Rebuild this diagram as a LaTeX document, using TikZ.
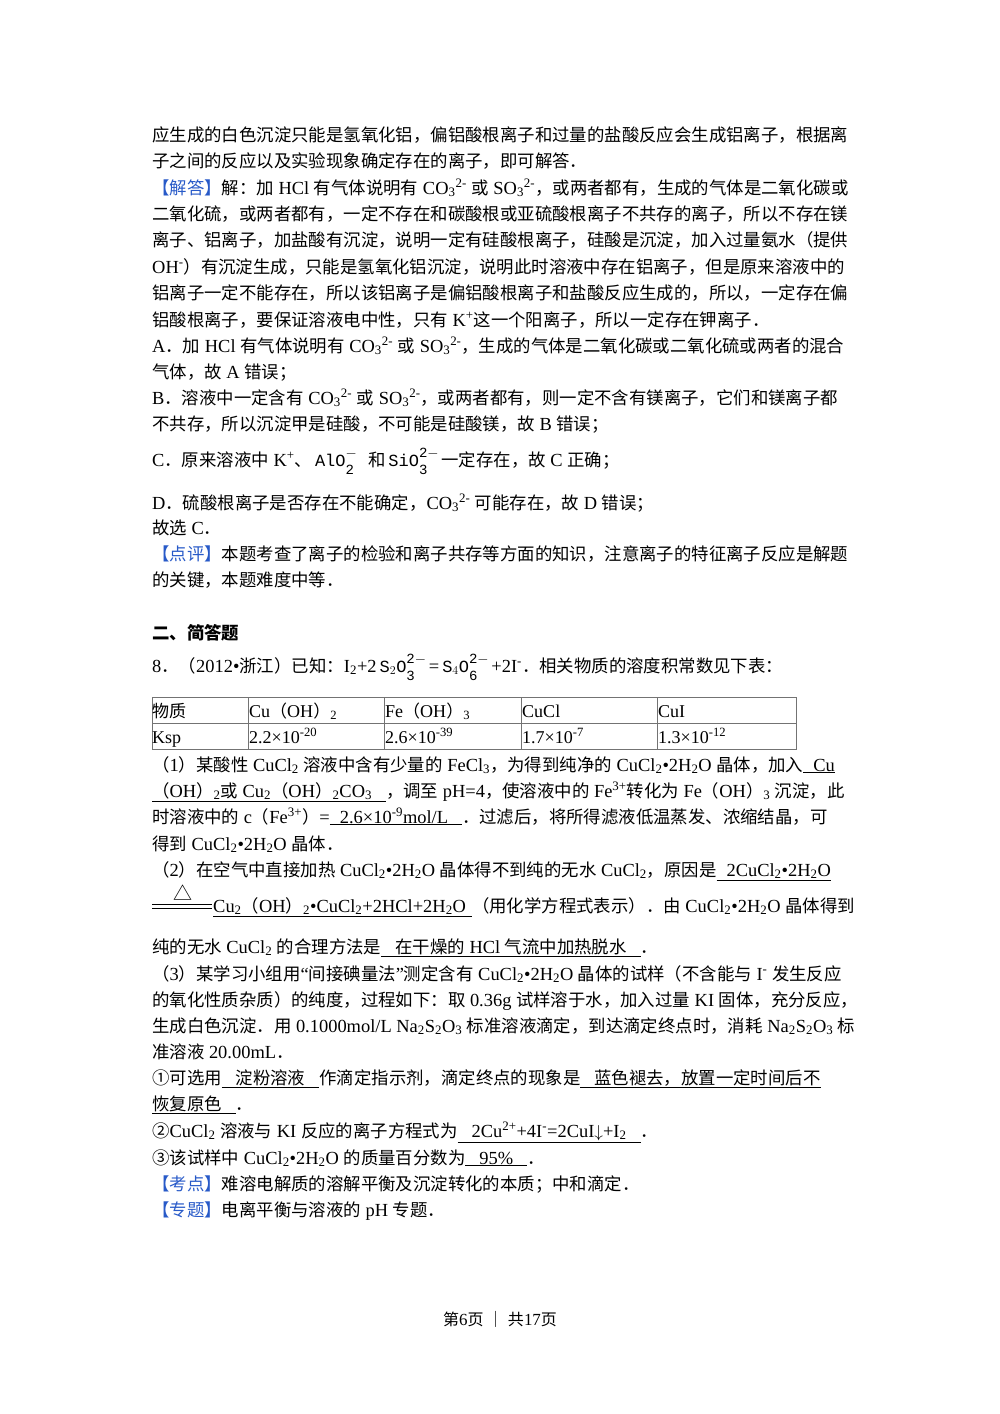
\documentclass[tikz,border=0pt]{standalone}
\usepackage{fontspec}
\setmainfont[Scale=1.06]{Liberation Serif}
\newfontfamily\latinf[Scale=1.06]{Liberation Serif}
\newfontfamily\cjk{Noto Sans CJK SC}
\newfontfamily\monof{Liberation Mono}
\XeTeXinterchartokenstate=1
\newXeTeXintercharclass\CJKcls
\newcount\cc
\def\setcls#1#2{\cc=#1 \loop\XeTeXcharclass\cc=\CJKcls\ifnum\cc<#2 \advance\cc by 1 \repeat}
\setcls{"3000}{"303F}
\setcls{"4E00}{"9FFF}
\setcls{"FF00}{"FFEF}
\setcls{"2460}{"2473}
\setcls{"25B3}{"25B3}
\XeTeXinterchartoks 0 \CJKcls={\cjk}
\XeTeXinterchartoks 4095 \CJKcls={\cjk}
\XeTeXinterchartoks \CJKcls 0={\latinf}
\XeTeXinterchartoks \CJKcls 4095={\latinf}
\definecolor{hd}{RGB}{40,90,200}
\newcommand\sbb[1]{\textsubscript{#1}}
\newcommand\spp[1]{\textsuperscript{#1}}
\newcommand\hdr[1]{{\color{hd}【#1】}}
\newcommand\ionx[3]{\hspace{3pt}{\monof\fontsize{17}{17}\selectfont #1\makebox[0pt][l]{\raisebox{9pt}{\fontsize{14}{14}\selectfont #3}}\raisebox{-8pt}{\fontsize{14}{14}\selectfont #2}\hspace{14pt}}}
\begin{document}
\begin{tikzpicture}[x=1pt,y=-1pt,
  txt/.style={anchor=base west,inner sep=0pt,font=\fontsize{17.4}{26}\selectfont},
  cell/.style={anchor=base west,inner sep=0pt,font=\fontsize{17}{22}\selectfont},
  grid/.style={draw=black!55,line width=0.8pt}]
\useasboundingbox (0,0) rectangle (1000,1414);
\newcommand\Ln[3]{\node[txt](#1) at (152,{#2+7}) {#3};}
\Ln{a1}{134}{应生成的白色沉淀只能是氢氧化铝，偏铝酸根离子和过量的盐酸反应会生成铝离子，根据离}
\Ln{a2}{160}{子之间的反应以及实验现象确定存在的离子，即可解答．}
\Ln{a3}{187}{\hdr{解答}解：加 HCl 有气体说明有 CO\sbb{3}\spp{2-} 或 SO\sbb{3}\spp{2-}，或两者都有，生成的气体是二氧化碳或}
\Ln{a4}{213}{二氧化硫，或两者都有，一定不存在和碳酸根或亚硫酸根离子不共存的离子，所以不存在镁}
\Ln{a5}{239}{离子、铝离子，加盐酸有沉淀，说明一定有硅酸根离子，硅酸是沉淀，加入过量氨水（提供}
\Ln{a6}{266}{OH\spp{-}）有沉淀生成，只能是氢氧化铝沉淀，说明此时溶液中存在铝离子，但是原来溶液中的}
\Ln{a7}{292}{铝离子一定不能存在，所以该铝离子是偏铝酸根离子和盐酸反应生成的，所以，一定存在偏}
\Ln{a8}{319}{铝酸根离子，要保证溶液电中性，只有 K\spp{+}这一个阳离子，所以一定存在钾离子．}
\Ln{a9}{345}{A．加 HCl 有气体说明有 CO\sbb{3}\spp{2-} 或 SO\sbb{3}\spp{2-}，生成的气体是二氧化碳或二氧化硫或两者的混合}
\Ln{a10}{371}{气体，故 A 错误；}
\Ln{a11}{397}{B．溶液中一定含有 CO\sbb{3}\spp{2-} 或 SO\sbb{3}\spp{2-}，或两者都有，则一定不含有镁离子，它们和镁离子都}
\Ln{a12}{423}{不共存，所以沉淀甲是硅酸，不可能是硅酸镁，故 B 错误；}
\Ln{a13}{459}{C．原来溶液中 K\spp{+}、\ionx{AlO}{2}{$-$}和\ionx{SiO}{3}{2$-$}一定存在，故 C 正确；}
\Ln{a14}{502}{D．硫酸根离子是否存在不能确定，CO\sbb{3}\spp{2-} 可能存在，故 D 错误；}
\Ln{a15}{527}{故选 C．}
\Ln{a16}{553}{\hdr{点评}本题考查了离子的检验和离子共存等方面的知识，注意离子的特征离子反应是解题}
\Ln{a17}{579}{的关键，本题难度中等．}
\Ln{b0}{632}{\bfseries 二、简答题}
\Ln{b1}{665}{8．（2012•浙江）已知：I\sbb{2}+2\ionx{S$_2$O}{3}{2$-$}=\ionx{S$_4$O}{6}{2$-$}+2I\spp{-}．相关物质的溶度积常数见下表：}
% table
\draw[grid] (152,697) rectangle (796,749);
\draw[grid] (152,723) -- (796,723);
\foreach \xx in {248,384,521,657} \draw[grid] (\xx,697) -- (\xx,749);
\node[cell](t1) at (152,717) {物质};
\node[cell](t2) at (249,717) {Cu（OH）\sbb{2}};
\node[cell](t3) at (385,717) {Fe（OH）\sbb{3}};
\node[cell](t4) at (522,717) {CuCl};
\node[cell](t5) at (658,717) {CuI};
\node[cell](t6) at (152,743) {Ksp};
\node[cell](t7) at (249,743) {2.2×10\spp{-20}};
\node[cell](t8) at (385,743) {2.6×10\spp{-39}};
\node[cell](t9) at (522,743) {1.7×10\spp{-7}};
\node[cell](t10) at (658,743) {1.3×10\spp{-12}};
\Ln{c1}{764}{（1）某酸性 CuCl\sbb{2} 溶液中含有少量的 FeCl\sbb{3}，为得到纯净的 CuCl\sbb{2}•2H\sbb{2}O 晶体，加入\underline{\hspace{10pt}Cu}}
\Ln{c2}{790}{\underline{（OH）\sbb{2}或 Cu\sbb{2}（OH）\sbb{2}CO\sbb{3}\hspace{14pt}}，调至 pH=4，使溶液中的 Fe\spp{3+}转化为 Fe（OH）\sbb{3} 沉淀，此}
\Ln{c3}{816}{时溶液中的 c（Fe\spp{3+}）=\underline{\hspace{10pt}2.6×10\spp{-9}mol/L\hspace{14pt}}．过滤后，将所得滤液低温蒸发、浓缩结晶，可}
\Ln{c4}{843}{得到 CuCl\sbb{2}•2H\sbb{2}O 晶体．}
\Ln{c5}{869}{（2）在空气中直接加热 CuCl\sbb{2}•2H\sbb{2}O 晶体得不到纯的无水 CuCl\sbb{2}，原因是\underline{\hspace{10pt}2CuCl\sbb{2}•2H\sbb{2}O}}
\coordinate (e1) at (152,904); \coordinate (e2) at (212,904);
\coordinate (e3) at (152,908); \coordinate (e4) at (212,908);
\draw[line width=1pt] (e1) -- (e2); \draw[line width=1pt] (e3) -- (e4);
\node[inner sep=0pt,font=\fontsize{19}{19}\selectfont](tri) at (183,893) {△};
\node[txt](c6) at (213,912) {\underline{Cu\sbb{2}（OH）\sbb{2}•CuCl\sbb{2}+2HCl+2H\sbb{2}O\hspace{6pt}}（用化学方程式表示）．由 CuCl\sbb{2}•2H\sbb{2}O 晶体得到};
\Ln{c7}{946}{纯的无水 CuCl\sbb{2} 的合理方法是\underline{\hspace{14pt}在干燥的 HCl 气流中加热脱水\hspace{14pt}}．}
\Ln{c8}{973}{（3）某学习小组用“间接碘量法”测定含有 CuCl\sbb{2}•2H\sbb{2}O 晶体的试样（不含能与 I\spp{-} 发生反应}
\Ln{c9}{999}{的氧化性质杂质）的纯度，过程如下：取 0.36g 试样溶于水，加入过量 KI 固体，充分反应，}
\Ln{c10}{1025}{生成白色沉淀．用 0.1000mol/L Na\sbb{2}S\sbb{2}O\sbb{3} 标准溶液滴定，到达滴定终点时，消耗 Na\sbb{2}S\sbb{2}O\sbb{3} 标}
\Ln{c11}{1051}{准溶液 20.00mL．}
\Ln{c12}{1077}{①可选用\underline{\hspace{14pt}淀粉溶液\hspace{14pt}}作滴定指示剂，滴定终点的现象是\underline{\hspace{14pt}蓝色褪去，放置一定时间后不}}
\Ln{c13}{1103}{\underline{恢复原色\hspace{14pt}}．}
\Ln{c14}{1130}{②CuCl\sbb{2} 溶液与 KI 反应的离子方程式为\underline{\hspace{14pt}2Cu\spp{2+}+4I\spp{-}=2CuI$\downarrow$+I\sbb{2}\hspace{14pt}}．}
\Ln{c15}{1157}{③该试样中 CuCl\sbb{2}•2H\sbb{2}O 的质量百分数为\underline{\hspace{14pt}95\%\hspace{14pt}}．}
\Ln{c16}{1183}{\hdr{考点}难溶电解质的溶解平衡及沉淀转化的本质；中和滴定．}
\Ln{c17}{1209}{\hdr{专题}电离平衡与溶液的 pH 专题．}
\node[inner sep=0pt,font=\fontsize{16}{20}\selectfont](ft) at (500,1319) {第6页 ｜ 共17页};
\end{tikzpicture}
\end{document}
